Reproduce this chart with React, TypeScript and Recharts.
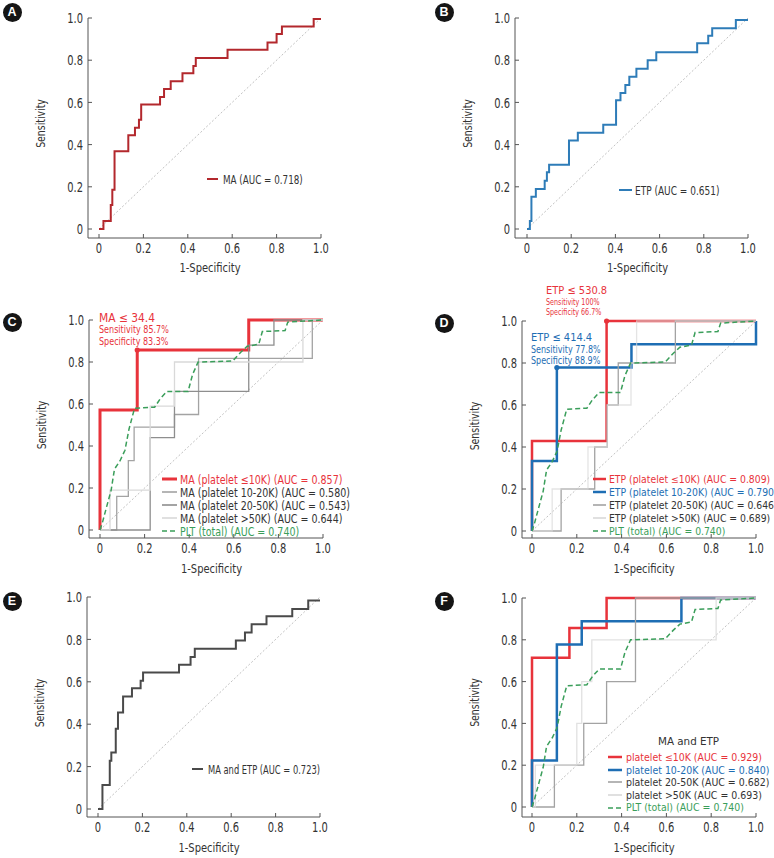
import React from 'react';
import { LineChart, Line, XAxis, YAxis, Legend, ReferenceDot, Label } from 'recharts';

const FONT = '"Liberation Sans Narrow", "DejaVu Sans Condensed", "Arial Narrow", "Liberation Sans", sans-serif';
const TICK_SX = 0.76;

const TICK_VALUES = [0, 0.2, 0.4, 0.6, 0.8, 1.0];
const TICK_LABELS = ['0', '0.2', '0.4', '0.6', '0.8', '1.0'];

const DIAG_FPR = [0, 1];
const DIAG_TPR = [0, 1];

// Panel A – MA
const A_MA_FPR = [0, 0.02, 0.053, 0.06, 0.07, 0.132, 0.162, 0.18, 0.19, 0.275, 0.293, 0.323, 0.376, 0.425, 0.436, 0.579, 0.759, 0.8, 0.824, 0.967, 1.0];
const A_MA_TPR = [0, 0.038, 0.114, 0.186, 0.369, 0.444, 0.48, 0.518, 0.59, 0.626, 0.663, 0.7, 0.738, 0.773, 0.81, 0.849, 0.884, 0.924, 0.96, 0.995, 0.995];

// Panel B – ETP
const B_ETP_FPR = [0, 0.013, 0.02, 0.04, 0.08, 0.09, 0.1, 0.19, 0.23, 0.345, 0.403, 0.423, 0.445, 0.463, 0.495, 0.546, 0.585, 0.77, 0.82, 0.838, 0.945, 1.0];
const B_ETP_TPR = [0, 0.038, 0.153, 0.19, 0.229, 0.269, 0.305, 0.42, 0.456, 0.494, 0.61, 0.645, 0.682, 0.722, 0.76, 0.8, 0.838, 0.88, 0.916, 0.952, 0.99, 0.99];

// PLT (total), shared by C, D, F
const PLT_FPR = [0, 0.012, 0.027, 0.05, 0.065, 0.09, 0.112, 0.13, 0.155, 0.245, 0.27, 0.3, 0.395, 0.415, 0.44, 0.595, 0.63, 0.66, 0.712, 0.728, 0.83, 0.842, 1];
const PLT_TPR = [0, 0.04, 0.1, 0.19, 0.29, 0.33, 0.38, 0.48, 0.58, 0.585, 0.625, 0.66, 0.66, 0.74, 0.8, 0.805, 0.845, 0.875, 0.885, 0.945, 0.95, 0.99, 1];

// Panel C – MA by platelet group
const C_LE10_FPR = [0, 0, 0.167, 0.667, 1];
const C_LE10_TPR = [0, 0.571, 0.857, 1, 1];
const C_10_20_FPR = [0, 0.075, 0.127, 0.153, 0.334, 0.442, 0.952, 1];
const C_10_20_TPR = [0, 0.16, 0.33, 0.49, 0.55, 0.817, 1, 1];
const C_20_50_FPR = [0, 0.225, 0.334, 0.667, 0.78, 1];
const C_20_50_TPR = [0, 0.44, 0.66, 0.88, 1, 1];
const C_GT50_FPR = [0, 0.045, 0.225, 0.334, 0.91, 1];
const C_GT50_TPR = [0, 0.19, 0.59, 0.8, 1, 1];

// Panel D – ETP by platelet group
const D_LE10_FPR = [0, 0, 0.333, 1];
const D_LE10_TPR = [0, 0.429, 1, 1];
const D_10_20_FPR = [0, 0, 0.111, 0.444, 1];
const D_10_20_TPR = [0, 0.333, 0.778, 0.889, 1];
const D_20_50_FPR = [0, 0.13, 0.28, 0.336, 0.385, 0.64, 1];
const D_20_50_TPR = [0, 0.2, 0.4, 0.6, 0.8, 1, 1];
const D_GT50_FPR = [0, 0.09, 0.25, 0.336, 0.442, 0.467, 1];
const D_GT50_TPR = [0, 0.2, 0.4, 0.6, 0.8, 1, 1];

// Panel E – MA and ETP
const E_FPR = [0, 0.02, 0.053, 0.06, 0.08, 0.09, 0.113, 0.153, 0.192, 0.203, 0.365, 0.417, 0.436, 0.621, 0.662, 0.692, 0.759, 0.875, 0.947, 1.0];
const E_TPR = [0, 0.113, 0.228, 0.266, 0.378, 0.455, 0.531, 0.57, 0.605, 0.644, 0.68, 0.717, 0.756, 0.795, 0.833, 0.872, 0.909, 0.943, 0.983, 0.983];

// Panel F – MA and ETP by platelet group
const F_LE10_FPR = [0, 0, 0.167, 0.333, 1];
const F_LE10_TPR = [0, 0.714, 0.857, 1, 1];
const F_10_20_FPR = [0, 0, 0.111, 0.222, 0.667, 1];
const F_10_20_TPR = [0, 0.222, 0.778, 0.889, 1, 1];
const F_20_50_FPR = [0, 0.1, 0.231, 0.333, 0.462, 1];
const F_20_50_TPR = [0, 0.2, 0.4, 0.6, 1, 1];
const F_GT50_FPR = [0, 0.015, 0.2, 0.222, 0.267, 0.822, 1];
const F_GT50_TPR = [0, 0.2, 0.4, 0.6, 0.8, 1, 1];

const toPts = (fpr: number[], tpr: number[]) => fpr.map((x, i) => ({ x, y: tpr[i] }));

const RED = '#e8333b';
const BLUE = '#1e6eb4';
const GREEN = '#3a9e5a';
const MGRAY = '#a3a3a3';
const DGRAY = '#8e8e8e';
const LGRAY = '#d9d9d9';

type Series = {
  name: string;
  fpr: number[];
  tpr: number[];
  color: string;
  width: number;
  dash?: string;
  curve: 'stepAfter' | 'linear';
  text: string;
  opacity?: number;
};

const pltSeries: Series = { name: 'PLT (total) (AUC = 0.740)', fpr: PLT_FPR, tpr: PLT_TPR, color: GREEN, width: 1.5, dash: '5 3', curve: 'linear', text: GREEN };

type Geo = { L: number; T: number; W: number; H: number; axisX: number; x0: number; x1: number; top1: number; y0: number; axisLine: number; xTitleY: number };

type Note = { text: string; x: number; y: number; size: number; color: string; sx: number; h: number };

type Panel = {
  letter: string;
  letterPos: [number, number];
  geo: Geo;
  series: Series[];
  legend: { left: number; top: number; iconW: number; gap: number; rowH: number; fontSize: number; sx: number; title?: string; titleH?: number; titlePad?: number };
  notes: Note[];
  dots: { x: number; y: number; color: string }[];
};

const panels: Panel[] = [
  {
    letter: 'A', letterPos: [12, 12],
    geo: { L: 0, T: 0, W: 380, H: 285, axisX: 88, x0: 99, x1: 321, top1: 18, y0: 229, axisLine: 238, xTitleY: 268 },
    series: [{ name: 'MA (AUC = 0.718)', fpr: A_MA_FPR, tpr: A_MA_TPR, color: '#b3282d', width: 2, curve: 'stepAfter', text: '#333' }],
    legend: { left: 207, top: 172.5, iconW: 11, gap: 5, rowH: 13, fontSize: 12.5, sx: 0.78 },
    notes: [], dots: [],
  },
  {
    letter: 'B', letterPos: [444, 12],
    geo: { L: 387, T: 0, W: 387, H: 285, axisX: 515, x0: 527, x1: 748, top1: 18, y0: 229, axisLine: 238, xTitleY: 268 },
    series: [{ name: 'ETP (AUC = 0.651)', fpr: B_ETP_FPR, tpr: B_ETP_TPR, color: '#2e7cb8', width: 2, curve: 'stepAfter', text: '#333' }],
    legend: { left: 619, top: 183.5, iconW: 13, gap: 3, rowH: 13, fontSize: 12.5, sx: 0.8 },
    notes: [], dots: [],
  },
  {
    letter: 'C', letterPos: [12, 322],
    geo: { L: 0, T: 285, W: 380, H: 295, axisX: 89, x0: 100, x1: 323, top1: 320, y0: 530, axisLine: 538, xTitleY: 569 },
    series: [
      { name: 'MA (platelet \u226410K) (AUC = 0.857)', fpr: C_LE10_FPR, tpr: C_LE10_TPR, color: RED, width: 3, curve: 'stepAfter', text: RED },
      { name: 'MA (platelet 10-20K) (AUC = 0.580)', fpr: C_10_20_FPR, tpr: C_10_20_TPR, color: MGRAY, width: 1.3, curve: 'stepAfter', text: '#333' },
      { name: 'MA (platelet 20-50K) (AUC = 0.543)', fpr: C_20_50_FPR, tpr: C_20_50_TPR, color: DGRAY, width: 1.3, curve: 'stepAfter', text: '#333' },
      { name: 'MA (platelet >50K) (AUC = 0.644)', fpr: C_GT50_FPR, tpr: C_GT50_TPR, color: LGRAY, width: 1.3, curve: 'stepAfter', text: '#333' },
      pltSeries,
    ],
    legend: { left: 162, top: 472.5, iconW: 15, gap: 3, rowH: 13, fontSize: 12, sx: 0.88 },
    notes: [
      { text: 'MA \u2264 34.4', x: 99, y: 317.5, size: 12, color: RED, sx: 0.99, h: 12 },
      { text: 'Sensitivity 85.7%', x: 99, y: 329.5, size: 10.5, color: RED, sx: 0.85, h: 11 },
      { text: 'Specificity 83.3%', x: 99, y: 341, size: 10.5, color: RED, sx: 0.85, h: 11 },
    ],
    dots: [{ x: 0.167, y: 0.857, color: RED }],
  },
  {
    letter: 'D', letterPos: [444, 323],
    geo: { L: 387, T: 285, W: 387, H: 295, axisX: 522, x0: 532, x1: 756, top1: 321, y0: 531, axisLine: 538, xTitleY: 569 },
    series: [
      { name: 'ETP (platelet \u226410K) (AUC = 0.809)', fpr: D_LE10_FPR, tpr: D_LE10_TPR, color: RED, width: 2.5, curve: 'stepAfter', text: RED },
      { name: 'ETP (platelet 10-20K) (AUC = 0.790)', fpr: D_10_20_FPR, tpr: D_10_20_TPR, color: BLUE, width: 2.5, curve: 'stepAfter', text: BLUE },
      { name: 'ETP (platelet 20-50K) (AUC = 0.646)', fpr: D_20_50_FPR, tpr: D_20_50_TPR, color: MGRAY, width: 1.3, curve: 'stepAfter', text: '#333' },
      { name: 'ETP (platelet >50K) (AUC = 0.689)', fpr: D_GT50_FPR, tpr: D_GT50_TPR, color: LGRAY, width: 1.3, curve: 'stepAfter', text: '#333', opacity: 0.7 },
      pltSeries,
    ],
    legend: { left: 593, top: 472.5, iconW: 13, gap: 3, rowH: 13, fontSize: 10, sx: 1.03 },
    notes: [
      { text: 'ETP \u2264 530.8', x: 546, y: 290, size: 11, color: RED, sx: 1.0, h: 11 },
      { text: 'Sensitivity 100%', x: 546, y: 302, size: 9, color: RED, sx: 0.79, h: 10 },
      { text: 'Specificity 66.7%', x: 546, y: 312, size: 9, color: RED, sx: 0.79, h: 10 },
      { text: 'ETP \u2264 414.4', x: 531, y: 336.5, size: 11, color: BLUE, sx: 1.0, h: 12 },
      { text: 'Sensitivity 77.8%', x: 531, y: 349, size: 10, color: BLUE, sx: 0.89, h: 11 },
      { text: 'Specificity 88.9%', x: 531, y: 360.5, size: 10, color: BLUE, sx: 0.89, h: 11 },
    ],
    dots: [{ x: 0.333, y: 1, color: RED }, { x: 0.111, y: 0.778, color: BLUE }],
  },
  {
    letter: 'E', letterPos: [12, 601],
    geo: { L: 0, T: 580, W: 380, H: 278, axisX: 87, x0: 98, x1: 320, top1: 597, y0: 809, axisLine: 817, xTitleY: 848 },
    series: [{ name: 'MA and ETP (AUC = 0.723)', fpr: E_FPR, tpr: E_TPR, color: '#4a4a4a', width: 2, curve: 'stepAfter', text: '#333' }],
    legend: { left: 192, top: 762.5, iconW: 11, gap: 5, rowH: 13, fontSize: 12.5, sx: 0.74 },
    notes: [], dots: [],
  },
  {
    letter: 'F', letterPos: [444, 601],
    geo: { L: 387, T: 580, W: 387, H: 278, axisX: 522, x0: 532, x1: 756, top1: 598, y0: 807, axisLine: 817, xTitleY: 848 },
    series: [
      { name: 'platelet \u226410K (AUC = 0.929)', fpr: F_LE10_FPR, tpr: F_LE10_TPR, color: RED, width: 2.5, curve: 'stepAfter', text: RED },
      { name: 'platelet 10-20K (AUC = 0.840)', fpr: F_10_20_FPR, tpr: F_10_20_TPR, color: BLUE, width: 2.5, curve: 'stepAfter', text: BLUE },
      { name: 'platelet 20-50K (AUC = 0.682)', fpr: F_20_50_FPR, tpr: F_20_50_TPR, color: MGRAY, width: 1.3, curve: 'stepAfter', text: '#333' },
      { name: 'platelet >50K (AUC = 0.693)', fpr: F_GT50_FPR, tpr: F_GT50_TPR, color: LGRAY, width: 1.3, curve: 'stepAfter', text: '#333', opacity: 0.8 },
      pltSeries,
    ],
    legend: { left: 608, top: 731, iconW: 14, gap: 4, rowH: 12.6, fontSize: 10, sx: 1.045, title: 'MA and ETP', titleH: 20, titlePad: 50 },
    notes: [], dots: [],
  },
];

const fmtTick = (v: number) => {
  const i = TICK_VALUES.findIndex((t) => Math.abs(t - v) < 1e-9);
  return i >= 0 ? TICK_LABELS[i] : String(v);
};

let measureCtx: CanvasRenderingContext2D | null = null;
const measureText = (text: string, size: number) => {
  if (!measureCtx && typeof document !== 'undefined') {
    measureCtx = document.createElement('canvas').getContext('2d');
  }
  if (!measureCtx) return text.length * size * 0.5;
  measureCtx.font = `${size}px ${FONT}`;
  return measureCtx.measureText(text).width;
};

// Condensed text: an SVG text squeezed horizontally to sx of its natural width.
const NarrowText = ({ text, size, sx, color, h }: { text: string; size: number; sx: number; color: string; h: number }) => {
  const w = measureText(text, size) * sx;
  return (
    <svg width={Math.ceil(w) + 1} height={h} style={{ display: 'block', overflow: 'visible' }}>
      <text x={0} y={h / 2} dy="0.35em" fontFamily={FONT} fontSize={size} fill={color} textLength={w} lengthAdjust="spacingAndGlyphs">
        {text}
      </text>
    </svg>
  );
};

const XTick = (props: any) => {
  const { x, y, payload } = props;
  return (
    <g transform={`translate(${x},${y}) scale(${TICK_SX},1)`}>
      <text x={0} y={0} dy="0.71em" textAnchor="middle" fill="#333" fontSize={14.5} fontFamily={FONT}>
        {fmtTick(payload.value)}
      </text>
    </g>
  );
};

const YTick = (props: any) => {
  const { x, y, payload } = props;
  return (
    <g transform={`translate(${x},${y}) scale(${TICK_SX},1)`}>
      <text x={0} y={0} dy="0.36em" textAnchor="end" fill="#333" fontSize={14.5} fontFamily={FONT}>
        {fmtTick(payload.value)}
      </text>
    </g>
  );
};

function PanelChart({ p }: { p: Panel }) {
  const g = p.geo;
  const lg = p.legend;
  const legendContent = (props: any) => {
    const items = (props.payload || []).filter((it: any) => it.type !== 'none' && p.series.some((s) => s.name === it.value));
    items.sort((a: any, b: any) => p.series.findIndex((s) => s.name === a.value) - p.series.findIndex((s) => s.name === b.value));
    return (
      <div style={{ fontFamily: FONT, color: '#333', whiteSpace: 'nowrap' }}>
        {lg.title ? (
          <div style={{ height: lg.titleH, display: 'flex', alignItems: 'center', paddingLeft: lg.titlePad }}>
            <NarrowText text={lg.title} size={lg.fontSize + 1} sx={lg.sx} color="#333" h={lg.titleH || 16} />
          </div>
        ) : null}
        {items.map((it: any) => {
          const s = p.series.find((q) => q.name === it.value)!;
          return (
            <div key={s.name} style={{ display: 'flex', alignItems: 'center', height: lg.rowH }}>
              <svg width={lg.iconW} height={6} style={{ display: 'block', flex: 'none' }}>
                <line x1={0} x2={lg.iconW} y1={3} y2={3} stroke={it.color || s.color} strokeWidth={Math.max(s.width, 1.6)} strokeDasharray={s.dash} />
              </svg>
              <div style={{ marginLeft: lg.gap }}>
                <NarrowText text={s.name} size={lg.fontSize} sx={lg.sx} color={s.text} h={lg.rowH} />
              </div>
            </div>
          );
        })}
      </div>
    );
  };

  const xTitle = () => {
    const cx = (g.x0 + g.x1) / 2 - g.L;
    const cy = g.xTitleY - g.T + 4;
    return (
      <g transform={`translate(${cx},${cy}) scale(0.85,1)`}>
        <text x={0} y={0} textAnchor="middle" fontFamily={FONT} fontSize={13} fill="#333">
          1-Specificity
        </text>
      </g>
    );
  };
  const yTitle = () => {
    const cx = g.axisX - 47 - g.L;
    const cy = (g.top1 + g.y0) / 2 - g.T;
    return (
      <g transform={`translate(${cx},${cy}) rotate(-90) scale(0.8,1)`}>
        <text x={0} y={0} textAnchor="middle" dominantBaseline="central" fontFamily={FONT} fontSize={13} fill="#333">
          Sensitivity
        </text>
      </g>
    );
  };

  return (
    <div style={{ position: 'absolute', left: g.L, top: g.T, width: g.W, height: g.H }}>
      <LineChart width={g.W} height={g.H} margin={{ top: g.top1 - g.T, right: g.L + g.W - g.x1, bottom: 0, left: 0 }}>
        <XAxis
          type="number"
          dataKey="x"
          domain={[0, 1]}
          ticks={TICK_VALUES}
          interval={0}
          padding={{ left: g.x0 - g.axisX, right: 0 }}
          height={g.T + g.H - g.axisLine}
          tickSize={-4}
          tickMargin={9}
          axisLine={{ stroke: '#555', strokeWidth: 1 }}
          tickLine={{ stroke: '#555', strokeWidth: 1 }}
          tick={<XTick />}
        >
          <Label content={xTitle} />
        </XAxis>
        <YAxis
          type="number"
          domain={[0, 1]}
          ticks={TICK_VALUES}
          interval={0}
          padding={{ top: 0, bottom: g.axisLine - g.y0 }}
          width={g.axisX - g.L}
          tickSize={-4}
          tickMargin={9}
          axisLine={{ stroke: '#555', strokeWidth: 1 }}
          tickLine={{ stroke: '#555', strokeWidth: 1 }}
          tick={<YTick />}
        >
          <Label content={yTitle} />
        </YAxis>
        <Line
          data={toPts(DIAG_FPR, DIAG_TPR)}
          dataKey="y"
          type="linear"
          stroke="#b0b0b0"
          strokeWidth={0.8}
          strokeDasharray="2 2"
          dot={false}
          activeDot={false}
          legendType="none"
          isAnimationActive={false}
          name="diagonal"
        />
        {p.series.map((s) => (
          <Line
            key={s.name}
            name={s.name}
            data={toPts(s.fpr, s.tpr)}
            dataKey="y"
            type={s.curve}
            stroke={s.color}
            strokeOpacity={s.opacity ?? 1}
            strokeWidth={s.width}
            strokeDasharray={s.dash}
            dot={false}
            activeDot={false}
            legendType="plainline"
            isAnimationActive={false}
          />
        ))}
        {p.dots.map((d, i) => (
          <ReferenceDot key={i} x={d.x} y={d.y} r={2.6} fill={d.color} stroke="none" ifOverflow="visible" />
        ))}
        <Legend
          layout="vertical"
          align="center"
          verticalAlign="middle"
          content={legendContent}
          wrapperStyle={{ left: lg.left - g.L, top: lg.top - g.T, width: 'auto' }}
        />
      </LineChart>
      {p.notes.map((n, i) => (
        <div key={i} style={{ position: 'absolute', left: n.x - g.L, top: n.y - g.T - n.h / 2 }}>
          <NarrowText text={n.text} size={n.size} sx={n.sx} color={n.color} h={n.h} />
        </div>
      ))}
      <div
        style={{
          position: 'absolute',
          left: p.letterPos[0] - 9.5 - g.L,
          top: p.letterPos[1] - 9.5 - g.T,
          width: 19,
          height: 19,
          borderRadius: 10,
          background: '#151515',
          color: '#fff',
          fontFamily: '"Liberation Sans", Arial, sans-serif',
          fontWeight: 700,
          fontSize: 12.5,
          lineHeight: '19px',
          textAlign: 'center',
        }}
      >
        {p.letter}
      </div>
    </div>
  );
}

export default function App() {
  return (
    <div style={{ position: 'absolute', left: 0, top: 0, width: 774, height: 858, background: '#fff', overflow: 'hidden' }}>
      {panels.map((p) => (
        <PanelChart key={p.letter} p={p} />
      ))}
    </div>
  );
}
